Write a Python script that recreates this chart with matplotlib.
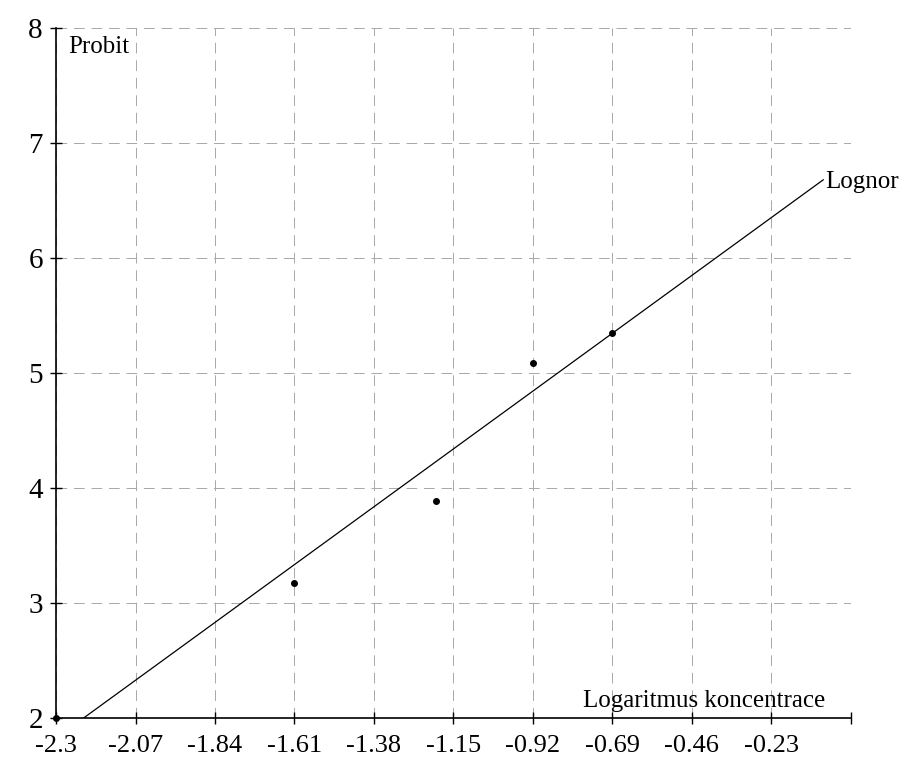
import matplotlib.pyplot as plt

# Probit vs log concentration data
log_conc = [-2.3, -1.61, -1.2, -0.92, -0.69]
probit = [2.0, 3.17, 3.89, 5.09, 5.35]

# Fitted lognormal line (endpoints)
fit_x = [-2.22, -0.08]
fit_y = [2.0, 6.68]

x_ticks = [-2.3, -2.07, -1.84, -1.61, -1.38, -1.15, -0.92, -0.69, -0.46, -0.23, 0.0]
x_labels = ['-2.3', '-2.07', '-1.84', '-1.61', '-1.38', '-1.15', '-0.92', '-0.69', '-0.46', '-0.23', '']
y_ticks = [2, 3, 4, 5, 6, 7, 8]

plt.rcParams['font.family'] = ['Liberation Serif', 'DejaVu Serif']

fig = plt.figure(figsize=(9.11, 7.66), dpi=100)
ax = fig.add_axes([0.0615, 0.0627, 0.8725, 0.9007])

ax.set_xlim(-2.3, 0.0)
ax.set_ylim(2, 8)

# Dashed grid
ax.grid(True, color='#a8a8a8', linestyle=(0, (11, 7)), linewidth=0.7)
ax.set_axisbelow(True)

# Regression line and points
ax.plot(fit_x, fit_y, color='black', linewidth=0.9)
ax.plot(log_conc, probit, 'o', color='black', markersize=4, clip_on=False, zorder=5)

ax.set_xticks(x_ticks)
ax.set_xticklabels(x_labels)
ax.set_yticks(y_ticks)

ax.tick_params(axis='both', direction='inout', length=9, width=1)
ax.tick_params(axis='y', pad=5, labelsize=21)
ax.tick_params(axis='x', pad=8, labelsize=19)

for side in ['top', 'right']:
    ax.spines[side].set_visible(False)
for side in ['left', 'bottom']:
    ax.spines[side].set_linewidth(1.2)

# Labels inside the plot
ax.text(-2.265, 7.93, 'Probit', fontsize=18, ha='left', va='top')
ax.text(-0.075, 2.05, 'Logaritmus koncentrace', fontsize=18, ha='right', va='bottom')
ax.text(fit_x[1] + 0.005, fit_y[1] - 0.02, 'Lognor', fontsize=18, ha='left', va='center')

fig.savefig('out.png', dpi=100)
